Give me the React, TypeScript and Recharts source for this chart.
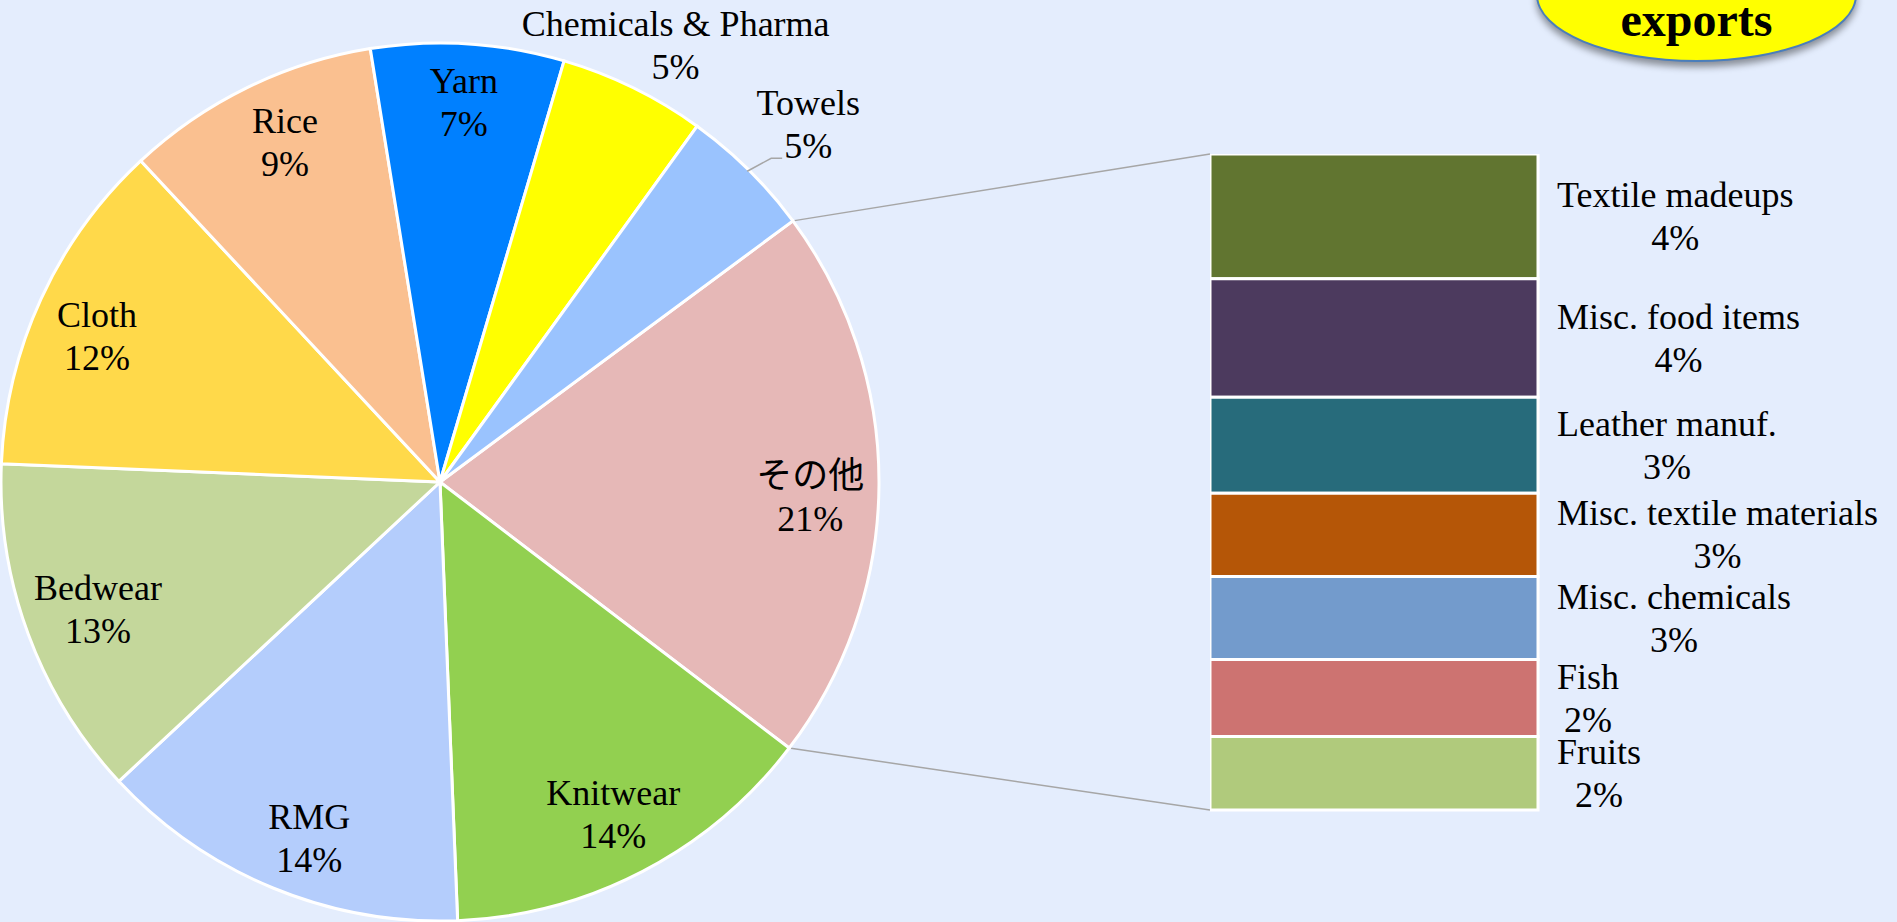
import { Bar, BarChart, Cell, LabelList, Pie, PieChart, XAxis, YAxis } from "recharts";

// main pie, clockwise from the "other" slice
const pieNames = ["その他", "Knitwear", "RMG", "Bedwear", "Cloth", "Rice", "Yarn", "Chemicals & Pharma", "Towels"];
const pieValues = [20.5, 14.0, 13.7, 12.6, 12.4, 9.4, 7.1, 5.4, 4.9];
const pieColors = ["#E6B8B7", "#92D050", "#B4CDFC", "#C4D79B", "#FFD94A", "#FAC090", "#0080FF", "#FFFF00", "#9AC3FE"];

// breakdown of "その他", top to bottom
const subNames = ["Textile madeups", "Misc. food items", "Leather manuf.", "Misc. textile materials", "Misc. chemicals", "Fish", "Fruits"];
const subValues = [3.9, 3.7, 3.0, 2.6, 2.6, 2.4, 2.3];
const subColors = ["#617530", "#4C3A5E", "#276B7B", "#B55607", "#739BCC", "#CD7371", "#B0CA7C"];

const FONT = "'Liberation Serif', 'Times New Roman', 'Noto Sans CJK JP', serif";
const FONT_SIZE = 36;
const LINE = 43;

const PIE_CX = 440;
const PIE_CY = 482;
const PIE_R = 439;
const START_ANGLE = 36.5;

const BAR_LEFT = 1210;
const BAR_TOP = 154;
const BAR_W = 328;
const BAR_H = 656;
const BAR_CHART_W = 687;
const BAR_PAD_BOTTOM = 40;

// label placement tweaks (px), the way the slide had them
const outsideLabels: Record<string, number> = { "Chemicals & Pharma": 1.12, Towels: 1.17 };
const labelNudge: Record<string, [number, number]> = {
  "その他": [-5, 13],
  RMG: [12, 9],
  Bedwear: [10, -3],
  Cloth: [-2, 11],
  Rice: [10, -2],
  Yarn: [0, -5],
  "Chemicals & Pharma": [19, 5],
  Towels: [7, 8],
};
const leaderLabels = ["Towels"];

const total = pieValues.reduce((a, b) => a + b, 0);
const pieData = pieNames.map((name, i) => ({ name, value: pieValues[i] }));
const barRow: Record<string, number | string> = { name: "その他" };
subValues.forEach((v, i) => {
  barRow[`s${i}`] = v;
});

const pct = (v: number) => `${Math.round((v / total) * 100 + 1e-9)}%`;
const RAD = Math.PI / 180;

let ctx: CanvasRenderingContext2D | null = null;
const textWidth = (t: string) => {
  if (!ctx) ctx = document.createElement("canvas").getContext("2d");
  if (!ctx) return t.length * FONT_SIZE * 0.45;
  ctx.font = `${FONT_SIZE}px ${FONT}`;
  return ctx.measureText(t).width;
};

const polar = (cx: number, cy: number, r: number, angle: number) => ({
  x: cx + r * Math.cos(-angle * RAD),
  y: cy + r * Math.sin(-angle * RAD),
});

function renderPieLabel(props: any) {
  const { cx, cy, midAngle, outerRadius, index } = props;
  const name = pieNames[index];
  const factor = outsideLabels[name] ?? 0.855;
  const pos = polar(cx, cy, outerRadius * factor, midAngle);
  const [nx, ny] = labelNudge[name] ?? [0, 0];
  const x = pos.x + nx;
  const y = pos.y + ny;
  const label = pct(pieValues[index]);
  let leader = null;
  if (leaderLabels.includes(name)) {
    const s = polar(cx, cy, outerRadius - 2, midAngle);
    const endX = x - textWidth(label) / 2 - 2;
    const ly = y + LINE / 2 + 12;
    leader = (
      <polyline
        points={`${s.x},${s.y} ${endX - 11},${ly} ${endX},${ly}`}
        fill="none"
        stroke="#A6A6A6"
        strokeWidth={1.5}
      />
    );
  }
  return (
    <g key={`pl-${index}`}>
      {leader}
      <text x={x} y={y - LINE / 2} textAnchor="middle" dominantBaseline="central" fontFamily={FONT} fontSize={FONT_SIZE} fill="#000">
        {name}
      </text>
      <text x={x} y={y + LINE / 2} textAnchor="middle" dominantBaseline="central" fontFamily={FONT} fontSize={FONT_SIZE} fill="#000">
        {label}
      </text>
    </g>
  );
}

function renderBarLabel(props: any, i: number) {
  const x = Number(props.x);
  const y = Number(props.y);
  const w = Number(props.width);
  const h = Number(props.height);
  const name = subNames[i];
  const label = pct(subValues[i]);
  const blockW = Math.max(textWidth(name), textWidth(label));
  const cx = x + w + 19 + blockW / 2;
  const cy = y + h / 2;
  return (
    <g key={`bl-${i}`}>
      <text x={cx} y={cy - LINE / 2} textAnchor="middle" dominantBaseline="central" fontFamily={FONT} fontSize={FONT_SIZE} fill="#000">
        {name}
      </text>
      <text x={cx} y={cy + LINE / 2} textAnchor="middle" dominantBaseline="central" fontFamily={FONT} fontSize={FONT_SIZE} fill="#000">
        {label}
      </text>
    </g>
  );
}

export default function App() {
  const otherEnd = START_ANGLE - (pieValues[0] / total) * 360;
  const p1 = polar(PIE_CX, PIE_CY, PIE_R, START_ANGLE);
  const p2 = polar(PIE_CX, PIE_CY, PIE_R, otherEnd);

  return (
    <div
      style={{
        position: "fixed",
        left: 0,
        top: 0,
        width: 1897,
        height: 922,
        overflow: "hidden",
        background: "#E4EDFD",
        fontFamily: FONT,
      }}
    >
      <svg width={1897} height={922} style={{ position: "absolute", left: 0, top: 0 }}>
        <line x1={p1.x} y1={p1.y} x2={BAR_LEFT} y2={BAR_TOP} stroke="#A6A6A6" strokeWidth={1.5} />
        <line x1={p2.x} y1={p2.y} x2={BAR_LEFT} y2={BAR_TOP + BAR_H} stroke="#A6A6A6" strokeWidth={1.5} />
      </svg>

      <div style={{ position: "absolute", left: 0, top: 0 }}>
        <PieChart width={1000} height={922} margin={{ top: 0, right: 0, bottom: 0, left: 0 }}>
          <Pie
            data={pieData}
            dataKey="value"
            nameKey="name"
            cx={PIE_CX}
            cy={PIE_CY}
            outerRadius={PIE_R}
            startAngle={START_ANGLE}
            endAngle={START_ANGLE - 360}
            stroke="#FFFFFF"
            strokeWidth={3}
            label={renderPieLabel}
            labelLine={false}
            isAnimationActive={false}
          >
            {pieData.map((d, i) => (
              <Cell key={d.name} fill={pieColors[i]} />
            ))}
          </Pie>
        </PieChart>
      </div>

      <div style={{ position: "absolute", left: BAR_LEFT, top: BAR_TOP }}>
        <BarChart
          width={BAR_CHART_W}
          height={BAR_H + BAR_PAD_BOTTOM}
          data={[barRow]}
          margin={{ top: 0, right: BAR_CHART_W - BAR_W, bottom: BAR_PAD_BOTTOM, left: 0 }}
          barCategoryGap={0}
        >
          <XAxis dataKey="name" hide />
          <YAxis hide reversed domain={[0, "dataMax"]} />
          {subNames.map((n, i) => (
            <Bar
              key={n}
              dataKey={`s${i}`}
              stackId="other"
              fill={subColors[i]}
              stroke="#FFFFFF"
              strokeWidth={3}
              isAnimationActive={false}
            >
              <LabelList dataKey={`s${i}`} content={(p: any) => renderBarLabel(p, i)} />
            </Bar>
          ))}
        </BarChart>
      </div>

      <div
        style={{
          position: "absolute",
          left: 1536,
          top: -72,
          width: 321,
          height: 134,
          borderRadius: "50%",
          background: "#FFFF00",
          border: "2px solid #4A7EBB",
          boxSizing: "border-box",
          boxShadow: "0 5px 7px rgba(0, 0, 0, 0.4)",
        }}
      />
      <div
        style={{
          position: "absolute",
          left: 1536,
          top: -4,
          width: 321,
          textAlign: "center",
          fontSize: 48,
          lineHeight: "48px",
          fontWeight: 700,
          color: "#000",
        }}
      >
        exports
      </div>
    </div>
  );
}
